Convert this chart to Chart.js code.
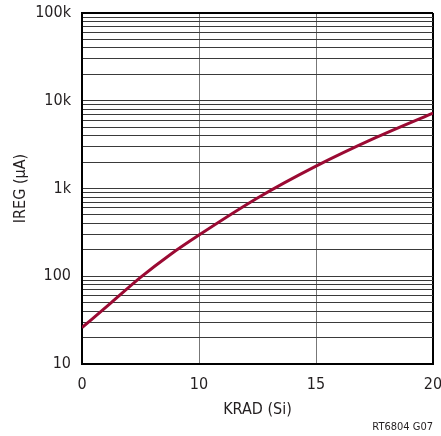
<!DOCTYPE html>
<html>
<head>
<meta charset="utf-8">
<script src="https://cdn.jsdelivr.net/npm/chart.js@4/dist/chart.umd.min.js"></script>
<style>
  html, body { margin: 0; padding: 0; background: #fff; }
  #wrap { width: 441px; height: 436px; }
</style>
</head>
<body>
<div id="wrap"><canvas id="iregChart" width="441" height="436"></canvas></div>
<script>
// x axis is drawn with evenly spaced ticks labelled 0, 10, 15, 20
const xTickLabels = ['0', '10', '15', '20'];
const xTickSteps = [0, 1, 2, 3];

// curve samples, x in tick steps, y in µA
const sampleSteps = [0, 0.25, 0.5, 0.75, 1, 1.5, 2, 2.5, 3];
const iregValues = [26, 50, 97, 175, 295, 780, 1800, 3750, 7250];

const yMajorValues = [10, 100, 1000, 10000, 100000];
const yMajorLabels = ['10', '100', '1k', '10k', '100k'];
const yMinorFactors = [1, 2, 3, 4, 5, 6, 7, 8, 9];

const FONT = "'Liberation Sans Narrow', 'DejaVu Sans Condensed', sans-serif";
const TEXT = '#231f20';

const yTickValues = [];
yMajorValues.slice(0, -1).forEach((dec) => {
  yMinorFactors.forEach((f) => yTickValues.push(dec * f));
});
yTickValues.push(yMajorValues[yMajorValues.length - 1]);

const noteLabel = {
  id: 'noteLabel',
  afterDraw(chart) {
    const { ctx, chartArea } = chart;
    ctx.save();
    ctx.font = '11px ' + FONT;
    ctx.fillStyle = TEXT;
    ctx.textAlign = 'right';
    ctx.textBaseline = 'middle';
    ctx.fillText('RT6804 G07', chartArea.right, 427);
    ctx.restore();
  },
};

new Chart(document.getElementById('iregChart'), {
  type: 'line',
  data: {
    datasets: [
      {
        data: sampleSteps.map((x, i) => ({ x, y: iregValues[i] })),
        borderColor: '#9b0a33',
        borderWidth: 3,
        pointRadius: 0,
        cubicInterpolationMode: 'monotone',
        fill: false,
      },
    ],
  },
  options: {
    responsive: false,
    animation: false,
    layout: { padding: { top: 13, right: 8, bottom: 0, left: 0 } },
    plugins: {
      legend: { display: false },
      tooltip: { enabled: false },
    },
    scales: {
      x: {
        type: 'linear',
        min: 0,
        max: 3,
        afterBuildTicks: (scale) => {
          scale.ticks = xTickSteps.map((v) => ({ value: v }));
        },
        afterFit: (scale) => {
          scale.height = 72;
          scale.paddingLeft = 0;
          scale.paddingRight = 0;
        },
        ticks: {
          padding: 11,
          color: TEXT,
          font: { family: FONT, size: 16 },
          callback: (v) => xTickLabels[xTickSteps.indexOf(v)],
        },
        grid: {
          drawTicks: false,
          color: (c) => (c.tick && c.tick.value === 3 ? '#000' : '#777'),
          lineWidth: (c) => (c.tick && c.tick.value === 3 ? 2 : 1),
        },
        border: { color: '#000', width: 2 },
        title: {
          display: true,
          text: 'KRAD (Si)',
          color: TEXT,
          font: { family: FONT, size: 16 },
          padding: { top: 0, bottom: 17 },
        },
      },
      y: {
        type: 'logarithmic',
        min: 10,
        max: 100000,
        afterBuildTicks: (scale) => {
          scale.ticks = yTickValues.map((v) => ({ value: v, major: yMajorValues.includes(v) }));
        },
        afterFit: (scale) => {
          scale.width = 82;
          scale.paddingTop = 0;
          scale.paddingBottom = 0;
        },
        ticks: {
          padding: 11,
          color: TEXT,
          font: { family: FONT, size: 16 },
          autoSkip: false,
          callback: (v) => {
            const i = yMajorValues.indexOf(v);
            return i >= 0 ? yMajorLabels[i] : '';
          },
        },
        grid: {
          drawTicks: false,
          color: (c) => (c.tick && c.tick.value === 100000 ? '#000' : '#3a3a3a'),
          lineWidth: (c) => (c.tick && c.tick.value === 100000 ? 2 : 1),
        },
        border: { color: '#000', width: 2 },
        title: {
          display: true,
          text: 'IREG (µA)',
          color: TEXT,
          font: { family: FONT, size: 16 },
          padding: { top: 11, bottom: 0 },
        },
      },
    },
  },
  plugins: [noteLabel],
});
</script>
</body>
</html>
